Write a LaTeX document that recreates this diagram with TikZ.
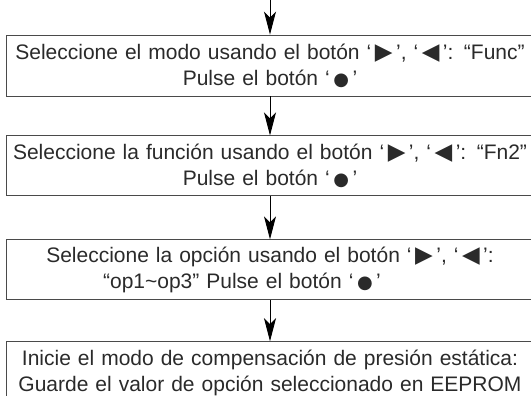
\documentclass[tikz,border=0pt]{standalone}
\usepackage{fontspec}
\setmainfont{Liberation Sans}
\newfontfamily\symfont{DejaVu Sans}
\usepackage{tikz}
\usetikzlibrary{arrows.meta, positioning}
\definecolor{boxline}{HTML}{4A4A4A}
\definecolor{txtgray}{HTML}{2A2A2A}
\newcommand{\btn}[1]{\,{\symfont\fontsize{23}{23}\selectfont #1}\,}
\newcommand{\okbtn}{\,{\symfont\fontsize{18}{18}\selectfont ●}\,}

\begin{document}
\begin{tikzpicture}[x=1pt, y=-1pt,
  stepbox/.style={rectangle, draw=boxline, line width=0.9pt, text=txtgray,
    text width=528pt, inner xsep=0pt, align=center,
    font=\fontsize{21}{26}\selectfont},
  arrow/.style={-{Stealth[length=23pt, width=12pt, inset=6pt]}, line width=0.9pt, draw=black}
]
  \useasboundingbox (0,0) rectangle (531,396);
  \clip (0,0) rectangle (531,396);

  \node[stepbox, minimum height=61pt] (selmode) at (270,65.5)
    {Seleccione el modo usando el botón ‘\btn{▶}’, ‘\btn{◀}’: “Func”\\Pulse el botón ‘\okbtn’};
  \node[stepbox, minimum height=60pt, below=39pt of selmode] (selfunc)
    {Seleccione la función usando el botón ‘\btn{▶}’, ‘\btn{◀}’: “Fn2”\\Pulse el botón ‘\okbtn’};
  \node[stepbox, minimum height=60pt, below=43pt of selfunc] (selopt)
    {Seleccione la opción usando el botón ‘\btn{▶}’, ‘\btn{◀}’:\\“op1\textasciitilde op3” Pulse el botón ‘\okbtn’\hspace*{56pt}};
  \node[stepbox, minimum height=62pt, below=41pt of selopt] (startcomp)
    {Inicie el modo de compensación de presión estática:\\Guarde el valor de opción seleccionado en EEPROM};

  \coordinate (entry) at (270,0);
  \draw[arrow] (entry) -- (selmode.north);
  \draw[arrow] (selmode) -- (selfunc);
  \draw[arrow] (selfunc) -- (selopt);
  \draw[arrow] (selopt) -- (startcomp);
\end{tikzpicture}
\end{document}
